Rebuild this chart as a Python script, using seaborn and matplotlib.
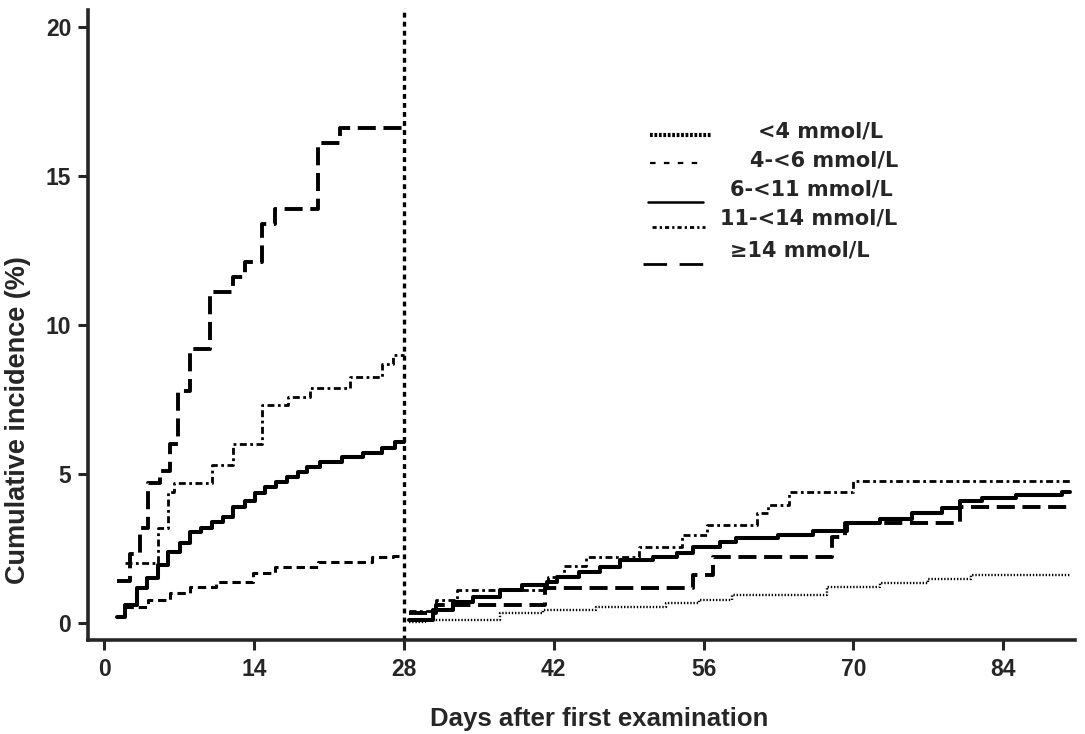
import numpy as np
import matplotlib
matplotlib.use("Agg")
import matplotlib.pyplot as plt
import seaborn as sns

# first period (days 0-28)
ge14_days_a = [1.2, 2.4, 3.4, 4.1, 5.2, 6.2, 6.9, 8.0, 9.9, 12.0, 13.2, 14.8, 16.0, 20.0, 22.0, 28.0]
ge14_vals_a = [1.4, 2.3, 3.2, 4.7, 5.1, 6.0, 7.8, 9.2, 11.1, 11.6, 12.1, 13.4, 13.9, 16.1, 16.6, 16.6]

g11_days_a = [2.0, 5.0, 6.0, 6.5, 10.1, 12.0, 14.8, 17.2, 19.2, 23.0, 26.0, 27.0, 28.0]
g11_vals_a = [2.0, 3.2, 4.4, 4.7, 5.3, 6.0, 7.3, 7.6, 7.9, 8.25, 8.7, 9.0, 9.0]

g6_days_a = [1.2, 2.0, 3.1, 4.0, 5.0, 6.0, 7.1, 8.0, 9.1, 10.1, 11.1, 12.0, 13.2, 14.1, 15.0,
             16.1, 17.1, 18.1, 19.0, 20.2, 22.2, 24.2, 26.0, 27.2, 28.0]
g6_vals_a = [0.2, 0.6, 1.17, 1.5, 1.95, 2.38, 2.7, 3.05, 3.2, 3.4, 3.55, 3.9, 4.1, 4.36, 4.56,
             4.73, 4.9, 5.07, 5.23, 5.4, 5.57, 5.7, 5.87, 6.07, 6.07]

g4_days_a = [2.0, 4.1, 6.2, 8.0, 10.5, 13.9, 16.0, 20.0, 25.0, 27.0, 28.0]
g4_vals_a = [0.55, 0.77, 1.0, 1.2, 1.37, 1.67, 1.88, 2.05, 2.2, 2.25, 2.25]

# second period (days 28-90)
g6_days_b = [28.5, 30.7, 32.6, 34.5, 37.0, 39.0, 41.4, 42.3, 44.4, 46.3, 48.2, 51.3, 53.5, 55.0,
             57.5, 59.0, 63.0, 66.2, 69.4, 72.5, 75.5, 78.3, 80.0, 82.0, 85.2, 89.5, 90.2]
g6_vals_b = [0.1, 0.43, 0.7, 0.87, 1.1, 1.27, 1.37, 1.54, 1.7, 1.88, 2.1, 2.2, 2.35, 2.55,
             2.72, 2.85, 2.95, 3.1, 3.35, 3.5, 3.7, 3.85, 4.1, 4.2, 4.3, 4.4, 4.4]

ge14_days_b = [28.5, 31.0, 41.2, 55.0, 56.9, 68.0, 69.2, 80.0, 90.2]
ge14_vals_b = [0.35, 0.6, 1.17, 1.6, 2.2, 2.9, 3.35, 3.9, 3.9]

g11_days_b = [28.5, 31.0, 33.0, 41.5, 43.0, 45.0, 50.0, 54.0, 56.3, 61.0, 62.0, 64.0, 70.0, 90.2]
g11_vals_b = [0.4, 0.77, 1.1, 1.55, 1.9, 2.2, 2.55, 2.95, 3.3, 3.7, 3.96, 4.4, 4.77, 4.77]

lt4_days_b = [28.5, 30.0, 37.0, 41.0, 46.0, 52.5, 55.6, 58.7, 67.5, 72.5, 77.0, 81.0, 90.2]
lt4_vals_b = [0.05, 0.1, 0.33, 0.44, 0.54, 0.67, 0.77, 0.94, 1.2, 1.34, 1.47, 1.6, 1.6]

legend_labels = ["<4 mmol/L", "4-<6 mmol/L", "6-<11 mmol/L", "11-<14 mmol/L", "\u226514 mmol/L"]
x_ticks = [0, 14, 28, 42, 56, 70, 84]
y_ticks = [0, 5, 10, 15, 20]

sns.set_style("ticks")
plt.rcParams["font.family"] = ["Liberation Sans", "DejaVu Sans"]
plt.rcParams["font.weight"] = "bold"
plt.rcParams["lines.scale_dashes"] = False

# line styles per group (dash patterns in points)
styles = {
    "<4 mmol/L": dict(lw=1.7, ls=(0, (1.0, 1.3))),
    "4-<6 mmol/L": dict(lw=2.2, ls=(0, (6.0, 3.5))),
    "6-<11 mmol/L": dict(lw=2.9, ls="-"),
    "11-<14 mmol/L": dict(lw=2.0, ls=(0, (5.0, 2.5, 2.0, 2.5))),
    "\u226514 mmol/L": dict(lw=2.8, ls=(0, (13, 5.5))),
}

fig = plt.figure(figsize=(10.85, 7.34), dpi=100)
ax = fig.add_axes([88 / 1085, 1 - 640 / 734, 987 / 1085, 630 / 734])

series = [
    ("\u226514 mmol/L", ge14_days_a, ge14_vals_a),
    ("11-<14 mmol/L", g11_days_a, g11_vals_a),
    ("6-<11 mmol/L", g6_days_a, g6_vals_a),
    ("4-<6 mmol/L", g4_days_a, g4_vals_a),
    ("<4 mmol/L", lt4_days_b, lt4_vals_b),
    ("\u226514 mmol/L", ge14_days_b, ge14_vals_b),
    ("11-<14 mmol/L", g11_days_b, g11_vals_b),
    ("6-<11 mmol/L", g6_days_b, g6_vals_b),
]
for name, d, v in series:
    st = styles[name]
    sns.lineplot(x=np.array(d), y=np.array(v), ax=ax, color="black", drawstyle="steps-post",
                 estimator=None, sort=False, linewidth=st["lw"], linestyle=st["ls"])

# day-28 reference line
ax.axvline(28, color="black", lw=2.4, ls=(0, (3.5, 3.0)), ymin=0, ymax=1.003, clip_on=False)

ax.set_xlim(-1.5, 90.7)
ax.set_ylim(-0.57, 20.57)
ax.set_xticks(x_ticks)
ax.set_yticks(y_ticks)
ax.tick_params(direction="out", length=7, width=2.2, labelsize=16.5)
ax.tick_params(axis="x", pad=6)
ax.tick_params(axis="y", pad=5)
for lab in ax.get_xticklabels() + ax.get_yticklabels():
    lab.set_fontweight("bold")
for s in ["left", "bottom"]:
    ax.spines[s].set_linewidth(2.6)
sns.despine(ax=ax)

ax.set_xlabel("Days after first examination", fontsize=18.5, fontweight="bold")
ax.set_ylabel("Cumulative incidence (%)", fontsize=19.5, fontweight="bold")
ax.xaxis.set_label_coords(0.518, -0.106)
ax.yaxis.set_label_coords(-0.058, 0.349)

# hand-placed legend
sample_pos = [(0.569, 0.632, 0.802), (0.569, 0.622, 0.757), (0.567, 0.623, 0.695),
              (0.571, 0.625, 0.656), (0.562, 0.625, 0.597)]
sample_styles = [
    dict(lw=3.0, ls=(0, (2.0, 1.2))),
    dict(lw=1.6, ls=(0, (4.0, 6.0))),
    dict(lw=1.8, ls="-"),
    dict(lw=2.0, ls=(0, (3.0, 2.2, 1.6, 2.2))),
    dict(lw=2.0, ls=(0, (17, 9))),
]
text_pos = [(0.679, 0.797), (0.671, 0.751), (0.650, 0.706), (0.640, 0.659), (0.650, 0.608)]
for name, (x0, x1, yy), sst, (tx, ty) in zip(legend_labels, sample_pos, sample_styles, text_pos):
    ax.plot([x0, x1], [yy, yy], transform=ax.transAxes, color="black",
            lw=sst["lw"], ls=sst["ls"], clip_on=False)
    ax.text(tx, ty, name, transform=ax.transAxes, fontsize=15, fontweight="bold",
            family=["DejaVu Sans"], ha="left", va="baseline")

fig.savefig("out.png", dpi=100)
